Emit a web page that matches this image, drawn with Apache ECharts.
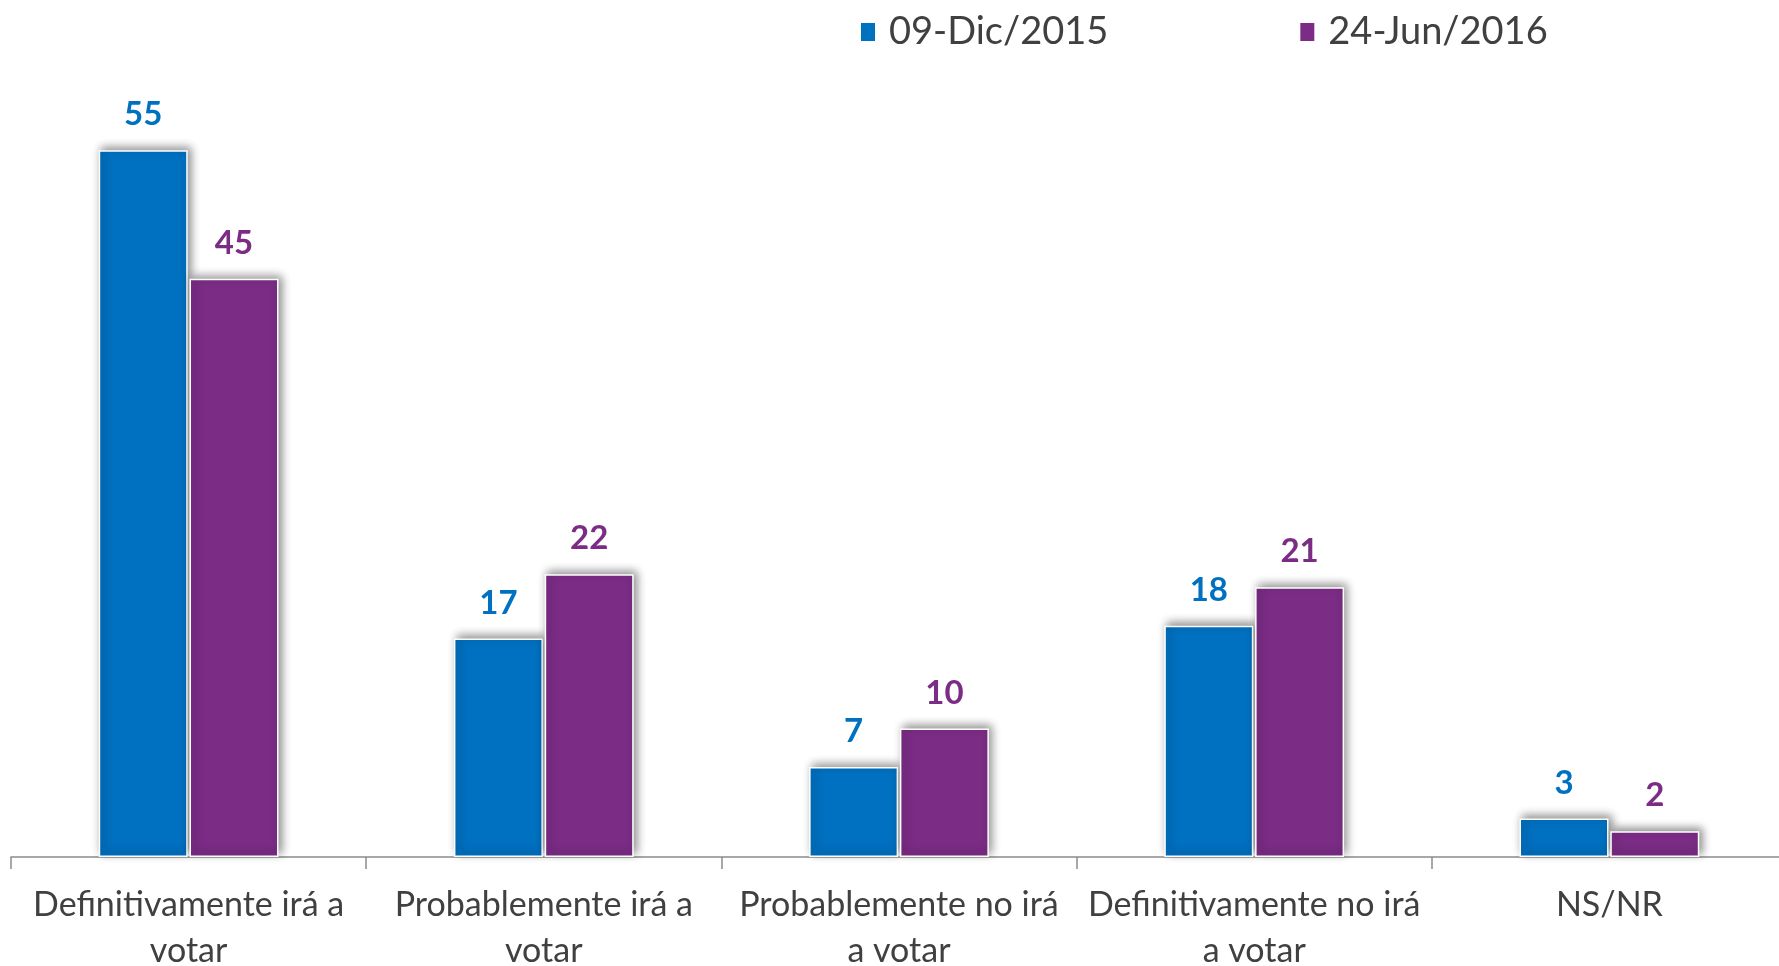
<!DOCTYPE html>
<html>
<head>
<meta charset="utf-8">
<script src="https://cdn.jsdelivr.net/npm/echarts@6/dist/echarts.min.js"></script>
<style>
  html, body { margin: 0; padding: 0; background: #fff; }
  #chart { width: 1779px; height: 966px; }
</style>
</head>
<body>
<div id="chart"></div>
<script>
  let categories = [
    "Definitivamente irá a\nvotar",
    "Probablemente irá a\nvotar",
    "Probablemente no irá\na votar",
    "Definitivamente no irá\na votar",
    "NS/NR"
  ];
  let seriesNames = ["09-Dic/2015", "24-Jun/2016"];
  let dic2015 = [55, 17, 7, 18, 3];
  let jun2016 = [45, 22, 10, 21, 2];
  let colors = ["#0070C0", "#7B2C85"];

  let font = "Lato, 'Open Sans', sans-serif";

  function barSeries(name, data, color) {
    return {
      name: name,
      type: "bar",
      data: data,
      barWidth: 89,
      barGap: "2%",
      itemStyle: {
        color: color,
        borderColor: "#ffffff",
        borderWidth: 1.5,
        shadowColor: "rgba(0,0,0,0.45)",
        shadowBlur: 9,
        shadowOffsetX: 3,
        shadowOffsetY: -3
      },
      label: {
        show: true,
        position: "top",
        distance: 19,
        color: color,
        fontFamily: font,
        fontWeight: "bold",
        fontSize: 33
      }
    };
  }

  let myChart = echarts.init(document.getElementById("chart"));
  myChart.setOption({
    animation: false,
    backgroundColor: "#ffffff",
    legend: {
      top: 8,
      left: 854,
      itemWidth: 16,
      itemHeight: 20,
      itemGap: 190,
      icon: "rect",
      textStyle: {
        fontFamily: font,
        fontSize: 38,
        color: "#404040",
        padding: [0, 0, 0, 8]
      },
      data: seriesNames
    },
    grid: {
      left: 11, right: -8, top: 86, bottom: 109,
      containLabel: false,
      outerBoundsMode: "none"
    },
    xAxis: {
      type: "category",
      data: categories,
      axisLine: { lineStyle: { color: "#8c8c8c", width: 1.5 } },
      axisTick: { show: true, length: 12, lineStyle: { color: "#8c8c8c", width: 1.5 } },
      axisLabel: {
        margin: 25,
        interval: 0,
        fontFamily: font,
        fontSize: 34,
        lineHeight: 46,
        color: "#404040"
      }
    },
    yAxis: {
      type: "value",
      min: 0,
      max: 60,
      show: false,
      splitLine: { show: false }
    },
    series: [
      barSeries(seriesNames[0], dic2015, colors[0]),
      barSeries(seriesNames[1], jun2016, colors[1])
    ]
  });
</script>
</body>
</html>
